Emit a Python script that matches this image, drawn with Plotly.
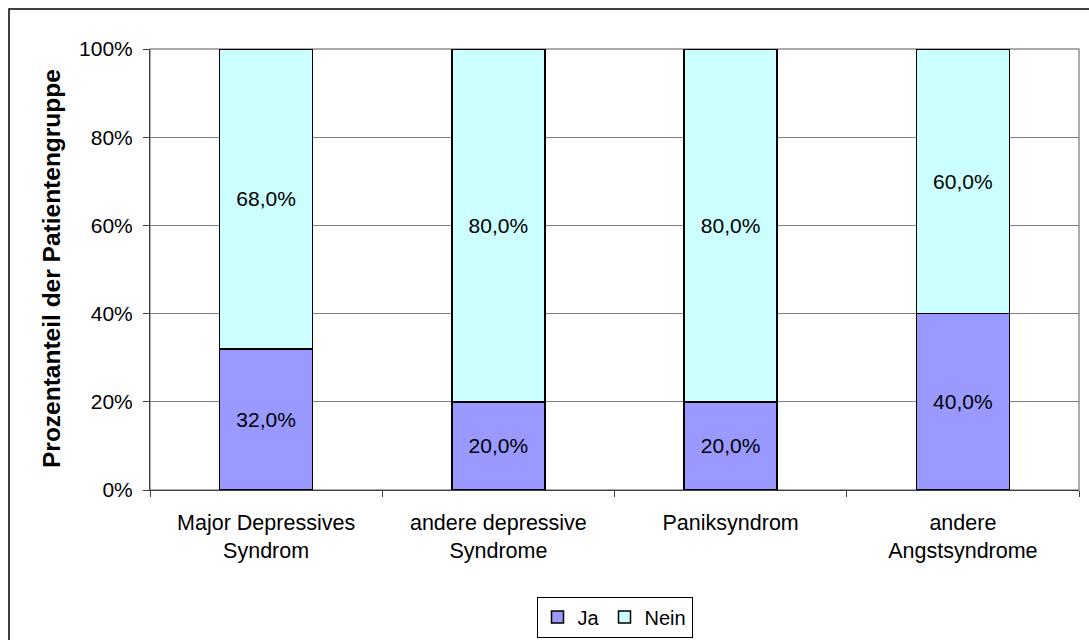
import plotly.graph_objects as go

categories = ["Major Depressives<br>Syndrom", "andere depressive<br>Syndrome", "Paniksyndrom", "andere<br>Angstsyndrome"]
ja_values = [32.0, 20.0, 20.0, 40.0]
nein_values = [68.0, 80.0, 80.0, 60.0]
y_ticks = [0, 20, 40, 60, 80, 100]
y_tick_labels = ["0%", "20%", "40%", "60%", "80%", "100%"]

FONT = "Liberation Sans, Arial, sans-serif"
FS = 21

fig = go.Figure()
fig.add_trace(go.Bar(
    x=categories, y=ja_values, name="Ja",
    marker=dict(color="#9999FF", line=dict(color="black", width=1.5)),
    texttemplate="%{y:.1f}%", textposition="inside", insidetextanchor="middle",
    textfont=dict(size=FS, color="black", family=FONT), width=0.4,
    textangle=0,
))
fig.add_trace(go.Bar(
    x=categories, y=nein_values, name="Nein",
    marker=dict(color="#CCFFFF", line=dict(color="black", width=1.5)),
    texttemplate="%{y:.1f}%", textposition="inside", insidetextanchor="middle",
    textfont=dict(size=FS, color="black", family=FONT), width=0.4,
    textangle=0,
))

L, R, T, B = 150, 10, 49, 150
W, H = 1089, 640
pw, ph = W - L - R, H - T - B

fig.update_layout(
    barmode="stack",
    width=W, height=H,
    margin=dict(l=L, r=R, t=T, b=B, pad=0, autoexpand=False),
    paper_bgcolor="white", plot_bgcolor="white",
    separators=",.",
    font=dict(family=FONT, size=FS, color="black"),
    uniformtext=dict(minsize=FS, mode="show"),
    showlegend=True,
    legend=dict(
        orientation="h", x=0.5, xanchor="center",
        yref="container", y=(H - 617) / H, yanchor="middle",
        bordercolor="black", borderwidth=1,
        font=dict(size=20, family=FONT), traceorder="normal",
        itemwidth=30,
    ),
    xaxis=dict(
        showline=True, linecolor="#404040", linewidth=1,
        ticks="outside", tickson="boundaries", ticklen=6, tickcolor="#404040",
        tickfont=dict(size=21.5, family=FONT), showgrid=False, range=[-0.5, 3.5],
        ticklabelstandoff=13,
    ),
    yaxis=dict(
        range=[0, 100], tickmode="array", tickvals=y_ticks, ticktext=y_tick_labels,
        showline=True, linecolor="#404040", linewidth=1,
        ticks="outside", ticklen=6, tickcolor="#404040",
        showgrid=True, gridcolor="#808080", gridwidth=1,
        tickfont=dict(size=FS, family=FONT), zeroline=False,
        ticklabelstandoff=6,
    ),
    shapes=[
        dict(type="rect", xref="paper", yref="paper",
             x0=0, x1=1, y0=0, y1=1,
             line=dict(color="#909090", width=1.5), layer="below"),
        dict(type="rect", xref="paper", yref="paper",
             x0=(9 - L) / pw, x1=1.2, y0=-0.6, y1=(490 - 9) / ph,
             line=dict(color="black", width=1.5)),
    ],
    annotations=[
        dict(text="<b>Prozentanteil der Patientengruppe</b>", xref="paper", yref="paper",
             x=(51 - L) / pw, y=(490 - 269) / ph, textangle=-90, showarrow=False,
             font=dict(size=24.5, family=FONT, color="black"),
             xanchor="center", yanchor="middle"),
    ],
)

fig.write_html("out.html", config={"displayModeBar": False},
               post_script="document.body.style.margin='0';")
